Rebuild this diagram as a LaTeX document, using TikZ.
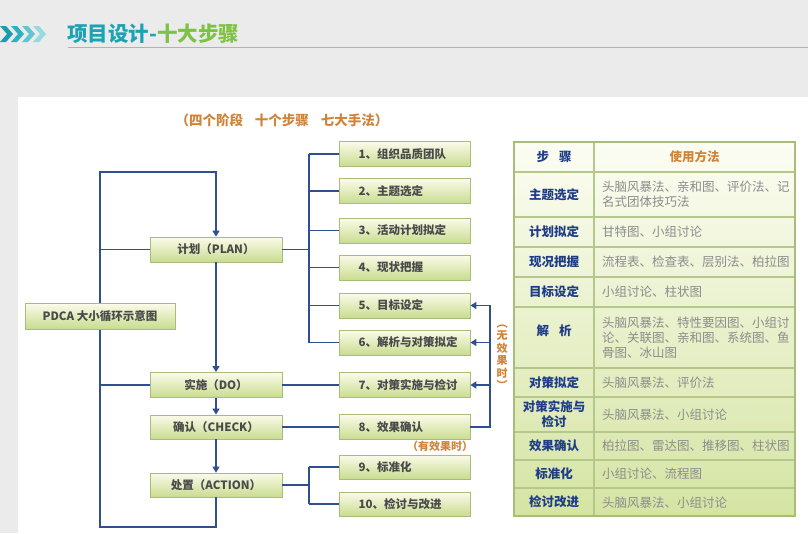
\documentclass[tikz,border=0pt]{standalone}
\usepackage{fontspec}
\setmainfont{Noto Sans CJK SC}
\usetikzlibrary{arrows.meta}
\definecolor{bgc}{HTML}{EBEBEB}
\definecolor{linec}{HTML}{2F4F91}
\definecolor{boxtop}{HTML}{FBFBEA}
\definecolor{boxbot}{HTML}{C9DC90}
\definecolor{boxborder}{HTML}{A9BD78}
\definecolor{boxtext}{HTML}{4A4A4A}
\definecolor{ttlteal}{HTML}{1BA2B5}
\definecolor{ttlgreen}{HTML}{7DC242}
\definecolor{orng}{HTML}{D0843A}
\definecolor{tblue}{HTML}{1F3C88}
\definecolor{tgrey}{HTML}{8C8C8C}
\definecolor{tblborder}{HTML}{B5C88A}
\definecolor{tblouter}{HTML}{A8BC7C}
\definecolor{tbltop}{HTML}{FCFDF3}
\definecolor{tblbot}{HTML}{D5E4A3}
\definecolor{chevA}{HTML}{1A9BAE}
\definecolor{chevB}{HTML}{2DB0C2}
\definecolor{chevC}{HTML}{62C6D2}
\definecolor{chevD}{HTML}{97D9E1}
\tikzset{
  ln/.style={draw=linec, line width=1.4pt},
  arr/.style={-{Triangle[length=6pt,width=7pt]}},
  gbox/.style={draw=boxborder, line width=0.8pt, top color=boxtop, bottom color=boxbot,
    minimum height=25pt, inner sep=0pt, text=boxtext, font=\fontsize{11.5}{13}\selectfont\bfseries},
  phase/.style={gbox, minimum width=132pt},
  stepbox/.style={gbox, minimum width=131pt, text width=112pt, align=left, inner xsep=9.5pt},
  lcell/.style={text=tblue, font=\fontsize{12.5}{15}\selectfont\bfseries, align=center, inner sep=0pt},
  rcell/.style={text=tgrey, font=\fontsize{12.5}{15}\selectfont, align=left, anchor=west, inner sep=0pt},
  note/.style={text=orng, font=\fontsize{11}{12.5}\selectfont\bfseries, inner sep=0pt, align=center},
  grid/.style={draw=tblborder, line width=1.2pt}
}
\begin{document}
\begin{tikzpicture}[x=1pt,y=-1pt]
\fill[bgc] (0,0) rectangle (808,533);
\useasboundingbox (0,0) rectangle (808,533);
\fill[white] (18,97) rectangle (808,533);
% header chevrons
\foreach \cx/\cc in {0/chevA,11/chevB,22/chevC,33/chevD}{
  \fill[\cc] (\cx,26) -- (\cx+6,26) -- (\cx+13,34) -- (\cx+6,42) -- (\cx,42) -- (\cx+7,34) -- cycle;
}
\node[anchor=west, inner sep=0pt, font=\fontsize{20.5}{22}\selectfont\bfseries] (title) at (67,34)
  {\textcolor{ttlteal}{项目设计-}\textcolor{ttlgreen}{十大步骤}};
\draw[draw=black!30, line width=0.9pt] (68,47) -- (808,47);
% subtitle
\node[text=orng, inner sep=0pt, font=\fontsize{13.5}{15}\selectfont\bfseries] (sub) at (282,120)
  {（四个阶段\hspace{12pt}十个步骤\hspace{12pt}七大手法）};

% phase boxes
\node[phase] (plan) at (216,249.5) {计划（PLAN）};
\node[phase] (do) at (216,385) {实施（DO）};
\node[phase, minimum height=24pt] (chk) at (216,427) {确认（CHECK）};
\node[phase, minimum height=24pt] (act) at (216,485) {处置（ACTION）};

% step boxes
\node[stepbox] (s1) at (404.5,154) {\hspace*{10pt}1、组织品质团队};
\node[stepbox] (s2) at (404.5,191) {\hspace*{10pt}2、主题选定};
\node[stepbox] (s3) at (404.5,230.5) {\hspace*{10pt}3、活动计划拟定};
\node[stepbox] (s4) at (404.5,267.5) {\hspace*{10pt}4、现状把握};
\node[stepbox] (s5) at (404.5,305.5) {\hspace*{10pt}5、目标设定};
\node[stepbox] (s6) at (404.5,342.5) {\hspace*{10pt}6、解析与对策拟定};
\node[stepbox] (s7) at (404.5,385) {\hspace*{10pt}7、对策实施与检讨};
\node[stepbox] (s8) at (404.5,427) {\hspace*{10pt}8、效果确认};
\node[stepbox, minimum height=24pt] (s9) at (404.5,467) {\hspace*{10pt}9、标准化};
\node[stepbox, minimum height=24pt] (s10) at (404.5,504) {\hspace*{10pt}10、检讨与改进};

% connectors
\coordinate (lt) at (100,172);
\coordinate (lb) at (100,527);
\coordinate (bx) at (309,0);
\coordinate (fx) at (490,0);
\draw[ln,arr] (act.south) |- (lb) -- (lt) -| (plan.north);
\draw[ln] (plan.west) -- (plan.west -| lt);
\draw[ln] (do.west) -- (do.west -| lt);
\draw[ln,arr] (plan.south) -- (do.north);
\draw[ln,arr] (do.south) -- (chk.north);
\draw[ln,arr] (chk.south) -- (act.north);
\draw[ln] (plan.east) -- (plan.east -| bx);
\draw[ln] (s1.west -| bx) -- (s6.west -| bx);
\foreach \s in {s1,s2,s3,s4,s5,s6}{ \draw[ln] (\s.west -| bx) -- (\s.west); }
\draw[ln] (do.east) -- (s7.west);
\draw[ln] (chk.east) -- (s8.west);
\draw[ln] (act.east) -- (act.east -| bx);
\draw[ln] (s9.west -| bx) -- (s10.west -| bx);
\draw[ln] (s9.west -| bx) -- (s9.west);
\draw[ln] (s10.west -| bx) -- (s10.west);
\draw[ln,arr] (s8.east) -| (fx |- s5.east) -- (s5.east);
\draw[ln,arr] (fx |- s6.east) -- (s6.east);
\draw[ln,arr] (fx |- s7.east) -- (s7.east);

% PDCA box on top of loop line
\node[phase, minimum width=150pt, minimum height=26pt] (pdca) at (100,316) {PDCA 大小循环示意图};

% notes
\node[note] (nofx) at (502,357) {︵\\无\\效\\果\\时\\︶};
\node[note] (yesfx) at (440,446) {（有效果时）};

% table
\shade[top color=tbltop, bottom color=tblbot] (514,142) rectangle (795,516);
\foreach \yy in {172,217,247,277,307,368,397,432,460,488}{ \draw[grid] (514,\yy) -- (795,\yy); }
\draw[grid] (594,142) -- (594,516);
\draw[draw=tblouter, line width=1.2pt] (514,142) rectangle (795,516);

\node[lcell] (h1) at (554,157) {步\hspace{10pt}骤};
\node[lcell, text=orng] (h2) at (694.5,157) {使用方法};

\node[lcell] (l1) at (554,194.5) {主题选定};
\node[rcell] (r1) at (602,194.5) {头脑风暴法、亲和图、评价法、记\\名式团体技巧法};
\node[lcell] (l2) at (554,232) {计划拟定};
\node[rcell] (r2) at (602,232) {甘特图、小组讨论};
\node[lcell] (l3) at (554,262) {现况把握};
\node[rcell] (r3) at (602,262) {流程表、检查表、层别法、柏拉图};
\node[lcell] (l4) at (554,292) {目标设定};
\node[rcell] (r4) at (602,292) {小组讨论、柱状图};
\node[lcell] (l5) at (554,331) {解\hspace{10pt}析};
\node[rcell] (r5) at (602,337.5) {头脑风暴法、特性要因图、小组讨\\论、关联图、亲和图、系统图、鱼\\骨图、冰山图};
\node[lcell] (l6) at (554,382.5) {对策拟定};
\node[rcell] (r6) at (602,382.5) {头脑风暴法、评价法};
\node[lcell] (l7) at (554,414.5) {对策实施与\\检讨};
\node[rcell] (r7) at (602,414.5) {头脑风暴法、小组讨论};
\node[lcell] (l8) at (554,446) {效果确认};
\node[rcell] (r8) at (602,446) {柏拉图、雷达图、推移图、柱状图};
\node[lcell] (l9) at (554,474) {标准化};
\node[rcell] (r9) at (602,474) {小组讨论、流程图};
\node[lcell] (l10) at (554,502) {检讨改进};
\node[rcell] (r10) at (602,503) {头脑风暴法、小组讨论};
\end{tikzpicture}
\end{document}
